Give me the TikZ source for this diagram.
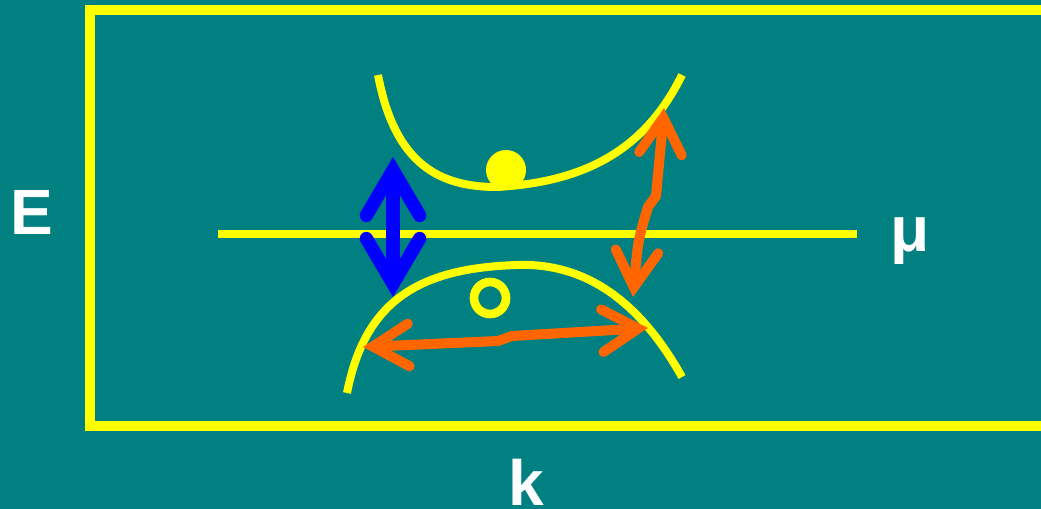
\documentclass[tikz,border=0pt]{standalone}
\usepackage{fontspec}
\setmainfont{Liberation Sans}
\usetikzlibrary{arrows.meta}

\definecolor{bgteal}{RGB}{0,128,128}
\definecolor{bandyellow}{RGB}{255,255,0}
\definecolor{gapblue}{RGB}{0,0,255}
\definecolor{hoporange}{RGB}{255,102,0}

\begin{document}
\begin{tikzpicture}[
    x=0.75pt, y=-0.75pt,
    axislabel/.style={text=white, font=\fontsize{48}{48}\selectfont\bfseries, inner sep=0pt, anchor=base},
    band/.style={draw=bandyellow, line width=6pt},
    gaparrow/.style={draw=gapblue, line width=10pt, {Straight Barb[length=34pt, width=40pt, line cap=round]}-{Straight Barb[length=34pt, width=40pt, line cap=round]}},
    hoparrow/.style={draw=hoporange, line width=7.5pt, line cap=round, line join=round, {Straight Barb[length=27pt, width=32pt, line cap=round]}-{Straight Barb[length=27pt, width=32pt, line cap=round]}}
]
    % Canvas
    \clip (0,0) rectangle (1041,509);
    \fill[bgteal] (0,0) rectangle (1041,509);

    % Frame
    \draw[bandyellow, line width=7.5pt] (90,10.5) rectangle (1070,426);

    % Axis labels
    \node[axislabel] (elabel) at (32,235) {E};
    \node[axislabel] (mulabel) at (910,252) {μ};
    \node[axislabel] (klabel) at (526,505) {k};

    % Chemical potential
    \draw[band] (218,234) -- (857,234);

    % Upper and lower bands
    \draw[band] (378,75) .. controls (395,165) and (440,187) .. (497,187)
                         .. controls (585,182) and (645,150) .. (682,75);
    \draw[band] (347,393) .. controls (365,300) and (420,268) .. (517,265)
                          .. controls (600,262) and (650,320) .. (682,377);

    % Particle and hole
    \fill[bandyellow] (506,170) circle (15pt);
    \draw[bandyellow, line width=6.5pt] (490,298) circle (12pt);

    % Arrow ends
    \coordinate (gaptop) at (393,157);
    \coordinate (gapbot) at (393,297);
    \coordinate (hoptop) at (664,108);
    \coordinate (hopbot) at (633,297);
    \coordinate (hopleft) at (363,347);
    \coordinate (hopright) at (648,328);

    % Arrows
    \draw[gaparrow] (gapbot) -- (gaptop);
    \draw[hoparrow] (hopbot) .. controls (638,240) .. (648,207) -- (656,196)
                    .. controls (660,160) .. (hoptop);
    \draw[hoparrow] (hopleft) -- (498,341) -- (512,336) -- (hopright);
\end{tikzpicture}
\end{document}
